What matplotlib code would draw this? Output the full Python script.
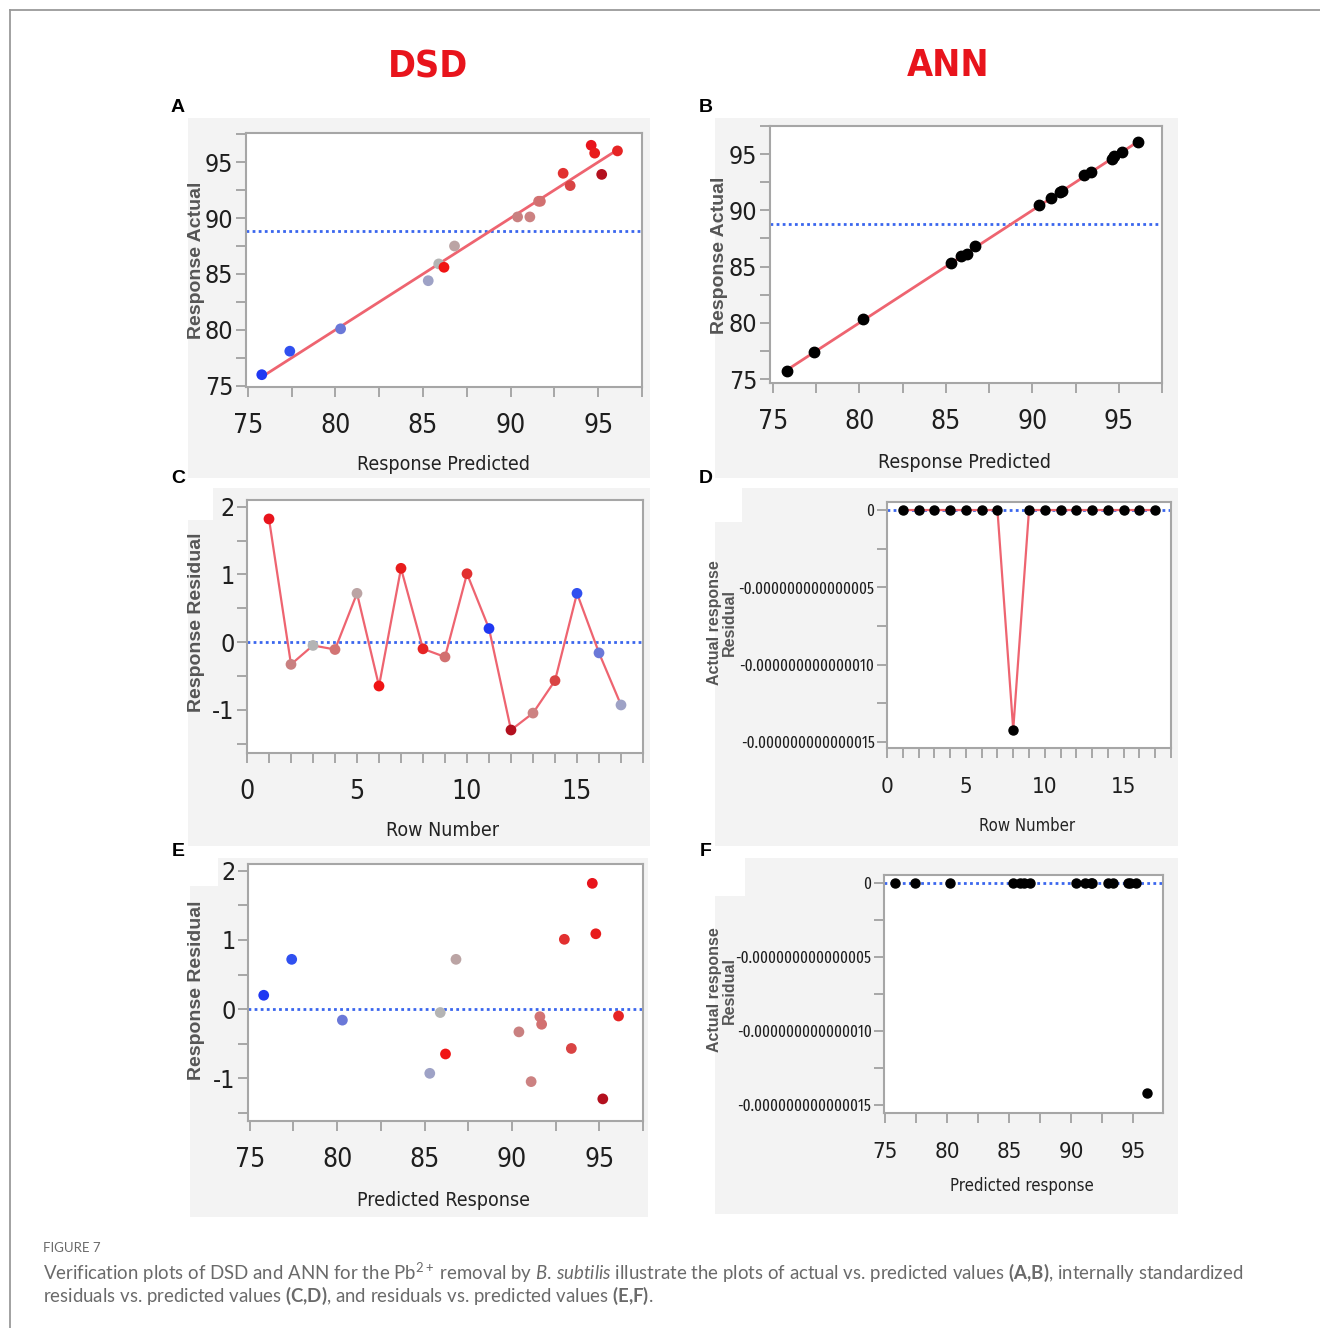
import numpy as np
import matplotlib
matplotlib.use('Agg')
import matplotlib.pyplot as plt
from matplotlib import font_manager
from matplotlib.font_manager import FontProperties
from matplotlib.ticker import FuncFormatter
from matplotlib.patches import Rectangle
from matplotlib.lines import Line2D

# Valeurs (17 essais)
row_number = np.arange(1, 18)
dsd_predicted = [94.6, 90.4, 85.9, 91.6, 86.8, 86.2, 94.8, 96.1, 91.7, 93.0, 75.8, 95.2, 91.1, 93.4, 77.4, 80.3, 85.3]
dsd_actual = [96.5, 90.1, 85.9, 91.5, 87.5, 85.6, 95.8, 96.0, 91.5, 94.0, 76.0, 93.9, 90.1, 92.9, 78.1, 80.1, 84.4]
dsd_residual = [1.82, -0.33, -0.05, -0.11, 0.72, -0.65, 1.09, -0.10, -0.22, 1.01, 0.20, -1.30, -1.05, -0.57, 0.72, -0.16, -0.93]

ann_predicted = [94.6, 90.4, 85.9, 91.6, 86.7, 86.2, 94.7, 96.1, 91.7, 93.0, 75.8, 95.2, 91.1, 93.4, 77.4, 80.2, 85.3]
ann_actual = [94.6, 90.5, 85.9, 91.6, 86.8, 86.1, 94.8, 96.1, 91.7, 93.1, 75.7, 95.2, 91.1, 93.4, 77.4, 80.3, 85.3]
ann_residual = [0, 0, 0, 0, 0, 0, 0, -1.42e-14, 0, 0, 0, 0, 0, 0, 0, 0, 0]

# couleurs des points JMP (gradient bleu -> rouge)
point_colors = ['#e8141c', '#c98080', '#b4b4b4', '#d27474', '#bba4a4', '#f01414', '#e81c1c', '#e62424',
                '#d27070', '#e23030', '#2038f2', '#b3101e', '#cc8282', '#d94444', '#3050f0', '#6a78d8', '#9ea2c6']

W, H = 1320, 1328
RED_LINE = '#ee6470'
BLUE_DOT = '#3a66ee'


def find_font(keys, exclude=()):
    for f in font_manager.fontManager.ttflist:
        low = f.fname.lower().replace('-', '').replace('_', '')
        if any(k in low for k in keys) and not any(e in low for e in exclude) \
                and f.style == 'normal' and f.weight in (400, 'normal', 'regular'):
            return f
    return None


# police étroite (les captures JMP utilisent une police condensée)
narrow = find_font(('narrow', 'condensed'), exclude=('extra', 'semi', 'ultra'))
extra = find_font(('extracondensed',))
if narrow is not None:
    NARROW, STRETCH = narrow.name, narrow.stretch
else:
    NARROW, STRETCH = 'DejaVu Sans', 'normal'
tiny_font = FontProperties(fname=extra.fname) if extra is not None else FontProperties(family=NARROW, stretch=STRETCH)
TINY_TICK = 11.8 if extra is not None else 10

available = {f.name for f in font_manager.fontManager.ttflist}
CAPTION = 'Lato' if 'Lato' in available else 'DejaVu Sans'

plt.rcParams['font.family'] = [NARROW, 'DejaVu Sans']
plt.rcParams['font.stretch'] = STRETCH
plt.rcParams['axes.unicode_minus'] = False
plt.rcParams['mathtext.fontset'] = 'custom'
plt.rcParams['mathtext.rm'] = CAPTION
plt.rcParams['mathtext.it'] = CAPTION + ':italic'
plt.rcParams['mathtext.bf'] = CAPTION + ':bold'

XTICK = 19
YTICK = 18
SMALL_TICK = 16
XLAB = 14


def px_box(left, top, right, bottom):
    return [left / W, 1 - bottom / H, (right - left) / W, (bottom - top) / H]


def fx(x):
    return x / W


def fy(y):
    return 1 - y / H


def gray_panel(fig, left, top, right, bottom, notch):
    fig.patches.append(Rectangle((fx(left), fy(bottom)), (right - left) / W, (bottom - top) / H,
                                 transform=fig.transFigure, facecolor='#f3f3f3', edgecolor='none', zorder=-2))
    nw, nh = notch
    fig.patches.append(Rectangle((fx(left), fy(top + nh)), nw / W, nh / H,
                                 transform=fig.transFigure, facecolor='white', edgecolor='none', zorder=-1))


def style_axes(ax, xsize, ysize, xpad=12):
    for s in ax.spines.values():
        s.set_color('#a6a6a6')
        s.set_linewidth(1.5)
    ax.tick_params(which='both', direction='out', length=7, width=1.2, color='#9a9a9a', labelcolor='#1e1e1e')
    ax.tick_params(axis='x', labelsize=xsize, pad=xpad)
    ax.tick_params(axis='y', labelsize=ysize, pad=2)
    ax.set_facecolor('white')


def set_ticks(ax, xlim, ylim, xstep, xminor, ystep, yminor):
    # uniquement les graduations visibles
    ax.set_xlim(*xlim)
    ax.set_ylim(*ylim)
    def inside(lo, hi, step):
        start = np.ceil(lo / step - 1e-9) * step + 0.0
        return np.arange(start, hi + step * 1e-6, step)
    ax.set_xticks(inside(xlim[0], xlim[1], xstep))
    ax.set_xticks(inside(xlim[0], xlim[1], xminor), minor=True)
    ax.set_yticks(inside(ylim[0], ylim[1], ystep))
    ax.set_yticks(inside(ylim[0], ylim[1], yminor), minor=True)
    ax.xaxis.set_minor_formatter(FuncFormatter(lambda v, pos: ''))
    ax.yaxis.set_minor_formatter(FuncFormatter(lambda v, pos: ''))


int_fmt = FuncFormatter(lambda v, pos: f'{round(v) + 0:d}')
tiny_fmt = FuncFormatter(lambda v, pos: '0' if abs(v) < 1e-20 else f'{v:.15f}')

fig = plt.figure(figsize=(W / 100, H / 100), dpi=100)
fig.patch.set_facecolor('white')

# cadre de la figure
fig.add_artist(Line2D([fx(10), fx(10)], [0, fy(10)], transform=fig.transFigure, color='#9a9a9a', lw=1.3))
fig.add_artist(Line2D([fx(10), 1], [fy(10), fy(10)], transform=fig.transFigure, color='#9a9a9a', lw=1.3))

# fonds gris des captures JMP
gray_panel(fig, 188, 118, 650, 478, (0, 0))
gray_panel(fig, 715, 118, 1178, 478, (0, 0))
gray_panel(fig, 188, 488, 650, 846, (25, 32))
gray_panel(fig, 715, 488, 1178, 846, (27, 34))
gray_panel(fig, 190, 858, 648, 1217, (28, 28))
gray_panel(fig, 715, 858, 1178, 1214, (30, 38))

# Titres
fig.text(fx(428), fy(68), 'DSD', ha='center', va='center', color='#e8141c', fontsize=27, fontweight='bold')
fig.text(fx(948), fy(66), 'ANN', ha='center', va='center', color='#e8141c', fontsize=27, fontweight='bold')

for letter, (x, y) in zip('ABCDEF', [(178, 107), (706, 107), (178, 479), (706, 479), (178, 851), (706, 851)]):
    fig.text(fx(x), fy(y), letter, ha='center', va='center', fontsize=14, fontweight='bold',
             family='Liberation Sans', stretch='normal')

ylab_kw = dict(rotation=90, ha='center', va='center', color='#555555', fontsize=14, fontweight='bold',
               family='Liberation Sans', stretch='normal')
xlab_kw = dict(ha='center', va='center', fontsize=XLAB, color='#222222')

# ---- A : DSD actual vs predicted
ax = fig.add_axes(px_box(246, 133, 642, 387))
style_axes(ax, XTICK, YTICK)
ax.plot([min(dsd_predicted), max(dsd_predicted)], [min(dsd_predicted), max(dsd_predicted)], color=RED_LINE, lw=2, zorder=2)
ax.axhline(np.mean(dsd_actual), color=BLUE_DOT, lw=2, ls=(0, (1, 1.2)), zorder=1)
ax.scatter(dsd_predicted, dsd_actual, c=point_colors, s=60, edgecolors='none', zorder=3)
set_ticks(ax, (74.9, 97.5), (74.9, 97.6), 5, 2.5, 5, 2.5)
ax.xaxis.set_major_formatter(int_fmt)
ax.yaxis.set_major_formatter(int_fmt)
fig.text(fx(196), fy(260), 'Response Actual', **ylab_kw)
fig.text(fx(443), fy(464), 'Response Predicted', **xlab_kw)

# ---- B : ANN actual vs predicted
ax = fig.add_axes(px_box(770, 126, 1162, 383))
style_axes(ax, XTICK, YTICK)
ax.plot([min(ann_predicted), max(ann_predicted)], [min(ann_predicted), max(ann_predicted)], color=RED_LINE, lw=2, zorder=2)
ax.axhline(np.mean(ann_actual), color=BLUE_DOT, lw=2, ls=(0, (1, 1.2)), zorder=1)
ax.plot(ann_predicted, ann_actual, 'o', color='black', ms=7.5, zorder=3)
set_ticks(ax, (74.83, 97.5), (74.65, 97.5), 5, 2.5, 5, 2.5)
ax.xaxis.set_major_formatter(int_fmt)
ax.yaxis.set_major_formatter(int_fmt)
fig.text(fx(720), fy(255), 'Response Actual', **ylab_kw)
fig.text(fx(964), fy(462), 'Response Predicted', **xlab_kw)

# ---- C : DSD residual by row
ax = fig.add_axes(px_box(247, 500, 643, 753))
style_axes(ax, XTICK, YTICK)
ax.plot(row_number, dsd_residual, color=RED_LINE, lw=1.6, zorder=2)
ax.axhline(0, color=BLUE_DOT, lw=2, ls=(0, (1, 1.2)), zorder=1)
ax.scatter(row_number, dsd_residual, c=point_colors, s=60, edgecolors='none', zorder=3)
set_ticks(ax, (0, 18), (-1.64, 2.1), 5, 1, 1, 0.5)
ax.xaxis.set_major_formatter(int_fmt)
ax.yaxis.set_major_formatter(int_fmt)
fig.text(fx(196), fy(622), 'Response Residual', **ylab_kw)
fig.text(fx(442), fy(830), 'Row Number', **xlab_kw)

# ---- D : ANN residual by row
ax = fig.add_axes(px_box(887, 502, 1171, 748))
style_axes(ax, SMALL_TICK, TINY_TICK, xpad=14)
ax.plot(row_number, ann_residual, color=RED_LINE, lw=1.6, zorder=2)
ax.axhline(0, color=BLUE_DOT, lw=2, ls=(0, (1, 1.2)), zorder=1)
ax.plot(row_number, ann_residual, 'o', color='black', ms=6.5, zorder=3)
set_ticks(ax, (0, 18), (-1.539e-14, 0.052e-14), 5, 1, 5e-15, 2.5e-15)
ax.xaxis.set_major_formatter(int_fmt)
ax.yaxis.set_major_formatter(tiny_fmt)
for lab in ax.get_yticklabels():
    lab.set_fontproperties(tiny_font)
    lab.set_fontsize(TINY_TICK)
fig.text(fx(722), fy(623), 'Actual response\nResidual', linespacing=1.05, **dict(ylab_kw, fontsize=11.5))
fig.text(fx(1027), fy(826), 'Row Number', **dict(xlab_kw, fontsize=XLAB - 2))

# ---- E : DSD residual vs predicted
ax = fig.add_axes(px_box(248, 864, 643, 1121))
style_axes(ax, XTICK, YTICK)
ax.axhline(0, color=BLUE_DOT, lw=2, ls=(0, (1, 1.2)), zorder=1)
ax.scatter(dsd_predicted, dsd_residual, c=point_colors, s=60, edgecolors='none', zorder=3)
set_ticks(ax, (74.9, 97.5), (-1.62, 2.1), 5, 2.5, 1, 0.5)
ax.xaxis.set_major_formatter(int_fmt)
ax.yaxis.set_major_formatter(int_fmt)
fig.text(fx(196), fy(990), 'Response Residual', **ylab_kw)
fig.text(fx(443), fy(1200), 'Predicted Response', **xlab_kw)

# ---- F : ANN residual vs predicted
ax = fig.add_axes(px_box(884, 875, 1163, 1113))
style_axes(ax, SMALL_TICK, TINY_TICK, xpad=14)
ax.axhline(0, color=BLUE_DOT, lw=2, ls=(0, (1, 1.2)), zorder=1)
ax.plot(ann_predicted, ann_residual, 'o', color='black', ms=6.5, zorder=3)
set_ticks(ax, (74.9, 97.4), (-1.554e-14, 0.054e-14), 5, 2.5, 5e-15, 2.5e-15)
ax.xaxis.set_major_formatter(int_fmt)
ax.yaxis.set_major_formatter(tiny_fmt)
for lab in ax.get_yticklabels():
    lab.set_fontproperties(tiny_font)
    lab.set_fontsize(TINY_TICK)
fig.text(fx(722), fy(990), 'Actual response\nResidual', linespacing=1.05, **dict(ylab_kw, fontsize=11.5))
fig.text(fx(1022), fy(1186), 'Predicted response', **dict(xlab_kw, fontsize=XLAB - 2))

# Légende de la figure
cap_kw = dict(ha='left', va='center', color='#6a6a6a', family=CAPTION, stretch='normal')
fig.text(fx(43), fy(1248), 'FIGURE 7', fontsize=9.5, **cap_kw)
fig.text(fx(43), fy(1272),
         r'Verification plots of DSD and ANN for the Pb$^{2+}$ removal by $\mathit{B.\,subtilis}$ illustrate the plots '
         r'of actual vs. predicted values $\mathbf{(A{,}B)}$, internally standardized', fontsize=13.4, **cap_kw)
fig.text(fx(43), fy(1296),
         r'residuals vs. predicted values $\mathbf{(C{,}D)}$, and residuals vs. predicted values $\mathbf{(E{,}F)}$.',
         fontsize=13.4, **cap_kw)

plt.savefig('out.png', dpi=100)
plt.close()
